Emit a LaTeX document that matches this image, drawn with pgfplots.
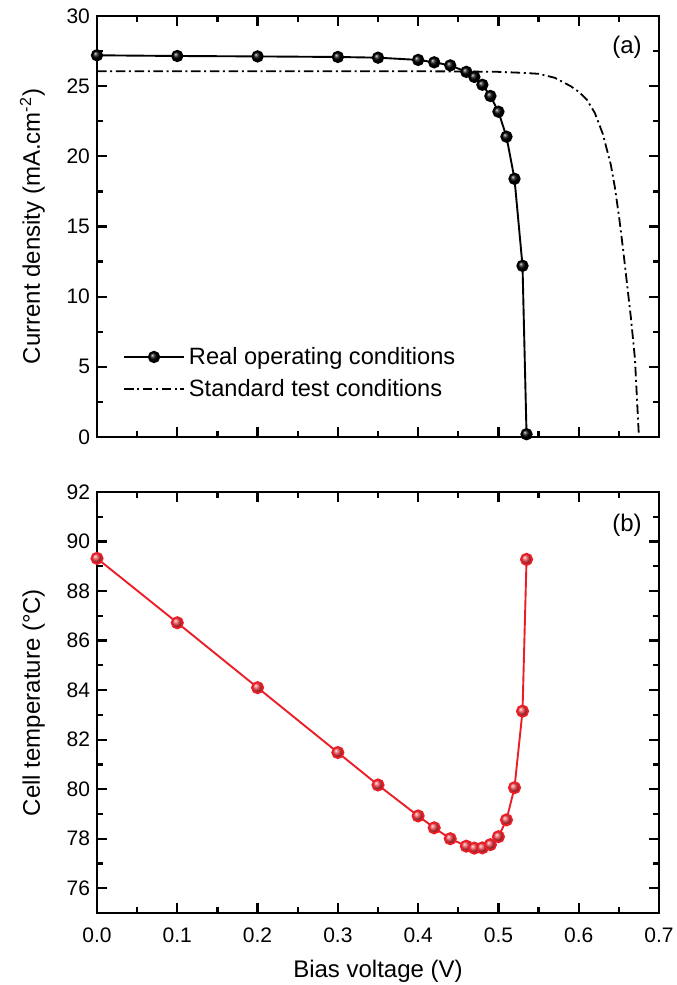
\documentclass[border=0pt]{standalone}
\usepackage{fontspec}
\setmainfont{Liberation Sans}
\usepackage{pgfplots}
\pgfplotsset{compat=1.18}
\usetikzlibrary{shadings}
\definecolor{cellred}{RGB}{235,30,40}

\pgfplotsset{
  panel/.style={
    scale only axis,
    width=281pt, height=210.5pt,
    xmin=0, xmax=0.7,
    xtick={0,0.1,...,0.7},
    minor x tick num=1,
    tick align=inside,
    ticks=both,
    xtick pos=both, ytick pos=both,
    major tick length=5pt,
    minor tick length=2.8pt,
    axis line style={line width=1.3pt},
    every tick/.style={line width=1.1pt, black},
    tick label style={font=\fontsize{10.5}{12}\selectfont},
    label style={font=\fontsize{12}{14}\selectfont},
    ylabel style={yshift=4pt},
    /pgf/number format/assume math mode=true,
  },
}

\begin{document}
\begin{tikzpicture}
\begin{axis}[
  panel,
  name=top,
  at={(0,0)},
  ymin=0, ymax=30,
  ytick={0,5,...,30},
  minor y tick num=1,
  xticklabels={},
  ylabel={Current density (mA.cm\textsuperscript{-2})},
  legend style={draw=none, fill=none, at={(0.035,0.07)}, anchor=south west,
    font=\fontsize{11.8}{14}\selectfont, row sep=2pt},
  legend cell align=left,
  legend image code/.code={
    \draw[#1] (0pt,0pt) -- (30pt,0pt);
    \draw[#1, only marks] plot coordinates {(15pt,0pt)};
  },
]
\addplot[line width=0.95pt, black, mark=ball, mark size=2.6pt,
  mark options={ball color=black}] coordinates {
  (0.00,27.20) (0.10,27.15) (0.20,27.12) (0.30,27.08) (0.35,27.03)
  (0.40,26.87) (0.42,26.70) (0.44,26.48) (0.46,26.02) (0.47,25.66)
  (0.48,25.10) (0.49,24.30) (0.50,23.18) (0.51,21.40) (0.52,18.40)
  (0.53,12.20) (0.535,0.20)
};
\addlegendentry{Real operating conditions}
\addplot[line width=0.9pt, black, dash pattern=on 4.8pt off 1.8pt on 1pt off 1.8pt]
  coordinates {
  (0.00,26.06) (0.10,26.06) (0.20,26.06) (0.30,26.06) (0.40,26.06)
  (0.45,26.05) (0.50,26.02) (0.53,25.95) (0.55,25.88) (0.57,25.60)
  (0.59,25.00) (0.60,24.60) (0.61,24.05) (0.62,23.10) (0.63,21.60)
  (0.64,19.40) (0.645,17.80) (0.65,15.80) (0.655,13.50) (0.66,11.00)
  (0.665,8.50) (0.67,5.60) (0.675,0.00)
};
\addlegendentry{Standard test conditions}
\node[font=\fontsize{12}{14}\selectfont] at (axis description cs:0.943,0.926) {(a)};
\end{axis}

\begin{axis}[
  panel,
  name=bottom,
  at={(0,-238pt)},
  ymin=75, ymax=92,
  ytick={76,78,...,92},
  minor ytick={77,79,...,91},
  xlabel={Bias voltage (V)},
  xlabel style={yshift=-1.5pt},
  ylabel={Cell temperature (°C)},
  xticklabel style={yshift=-4pt, /pgf/number format/.cd, fixed, fixed zerofill, precision=1},
]
\addplot[line width=0.95pt, cellred, mark=ball, mark size=2.8pt,
  mark options={ball color=cellred!85!white}] coordinates {
  (0.00,89.32) (0.10,86.72) (0.20,84.10) (0.30,81.48) (0.35,80.17)
  (0.40,78.92) (0.42,78.44) (0.44,78.00) (0.46,77.70) (0.47,77.62)
  (0.48,77.63) (0.49,77.76) (0.50,78.08) (0.51,78.76) (0.52,80.06)
  (0.53,83.15) (0.535,89.28)
};
\node[font=\fontsize{12}{14}\selectfont] at (axis description cs:0.943,0.92) {(b)};
\end{axis}
\pgfresetboundingbox
\path[use as bounding box] (-48.5pt,-274pt) rectangle (289.5pt,218.5pt);
\end{tikzpicture}
\end{document}
